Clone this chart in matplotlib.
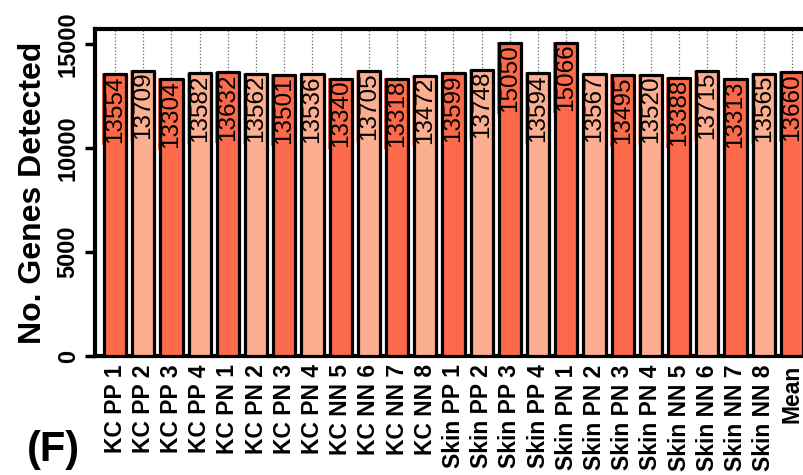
import matplotlib
matplotlib.use("Agg")
import matplotlib.pyplot as plt
import numpy as np

plt.rcParams['font.family'] = ['Liberation Sans', 'DejaVu Sans']

samples = ['KC PP 1', 'KC PP 2', 'KC PP 3', 'KC PP 4',
           'KC PN 1', 'KC PN 2', 'KC PN 3', 'KC PN 4',
           'KC NN 5', 'KC NN 6', 'KC NN 7', 'KC NN 8',
           'Skin PP 1', 'Skin PP 2', 'Skin PP 3', 'Skin PP 4',
           'Skin PN 1', 'Skin PN 2', 'Skin PN 3', 'Skin PN 4',
           'Skin NN 5', 'Skin NN 6', 'Skin NN 7', 'Skin NN 8',
           'Mean']
genes = [13554, 13709, 13304, 13582,
         13632, 13562, 13501, 13536,
         13340, 13705, 13318, 13472,
         13599, 13748, 15050, 13594,
         15066, 13567, 13495, 13520,
         13388, 13715, 13313, 13565,
         13660]

dark = '#FB6A4A'
light = '#FCAE91'
colors = [dark if i % 2 == 0 else light for i in range(len(samples))]

fig = plt.figure(figsize=(8.04, 4.75), dpi=100)
ax = fig.add_axes([95 / 804, 119 / 475, 717 / 804, 327 / 475])

x = np.arange(len(samples))
# fill first, labels on top of fill, then the black outlines over everything
ax.bar(x, genes, width=0.79, color=colors, edgecolor='none', zorder=3)
for xi, v, c in zip(x, genes, colors):
    ax.text(xi, v - 50, str(v), rotation=90, ha='center', va='top',
            fontsize=17.5, color='black', zorder=4,
            bbox=dict(boxstyle='square,pad=0.08', facecolor=c, edgecolor='none'))
outlines = ax.bar(x, genes, width=0.79, facecolor='none', edgecolor='black',
                  linewidth=2.3, zorder=5)
for p in outlines:
    p.set_joinstyle('round')

ax.set_xlim(-0.71, 24.71)
ax.set_ylim(0, 15720)
ax.set_yticks([0, 5000, 10000, 15000])
ax.set_yticklabels(['0', '5000', '10000', '15000'], rotation=90, va='center',
                   fontsize=17, fontweight='bold')
ax.set_xticks(x)
ax.set_xticklabels(samples, rotation=90, fontsize=16.5, fontweight='bold')
ax.tick_params(axis='x', length=0, pad=6)
ax.tick_params(axis='y', length=7, width=2.5, pad=4)

ax.grid(axis='x', linestyle=':', color='#666666', linewidth=0.9, zorder=0)
ax.set_axisbelow(True)

for s in ['left', 'bottom', 'top']:
    ax.spines[s].set_linewidth(3)
ax.spines['right'].set_visible(False)

ax.set_ylabel('No. Genes Detected', fontsize=23, fontweight='bold', labelpad=6)

fig.text(53 / 804, 1 - 450 / 475, '(F)', fontsize=30, fontweight='bold',
         ha='center', va='center')

fig.savefig('out.png', dpi=100)
